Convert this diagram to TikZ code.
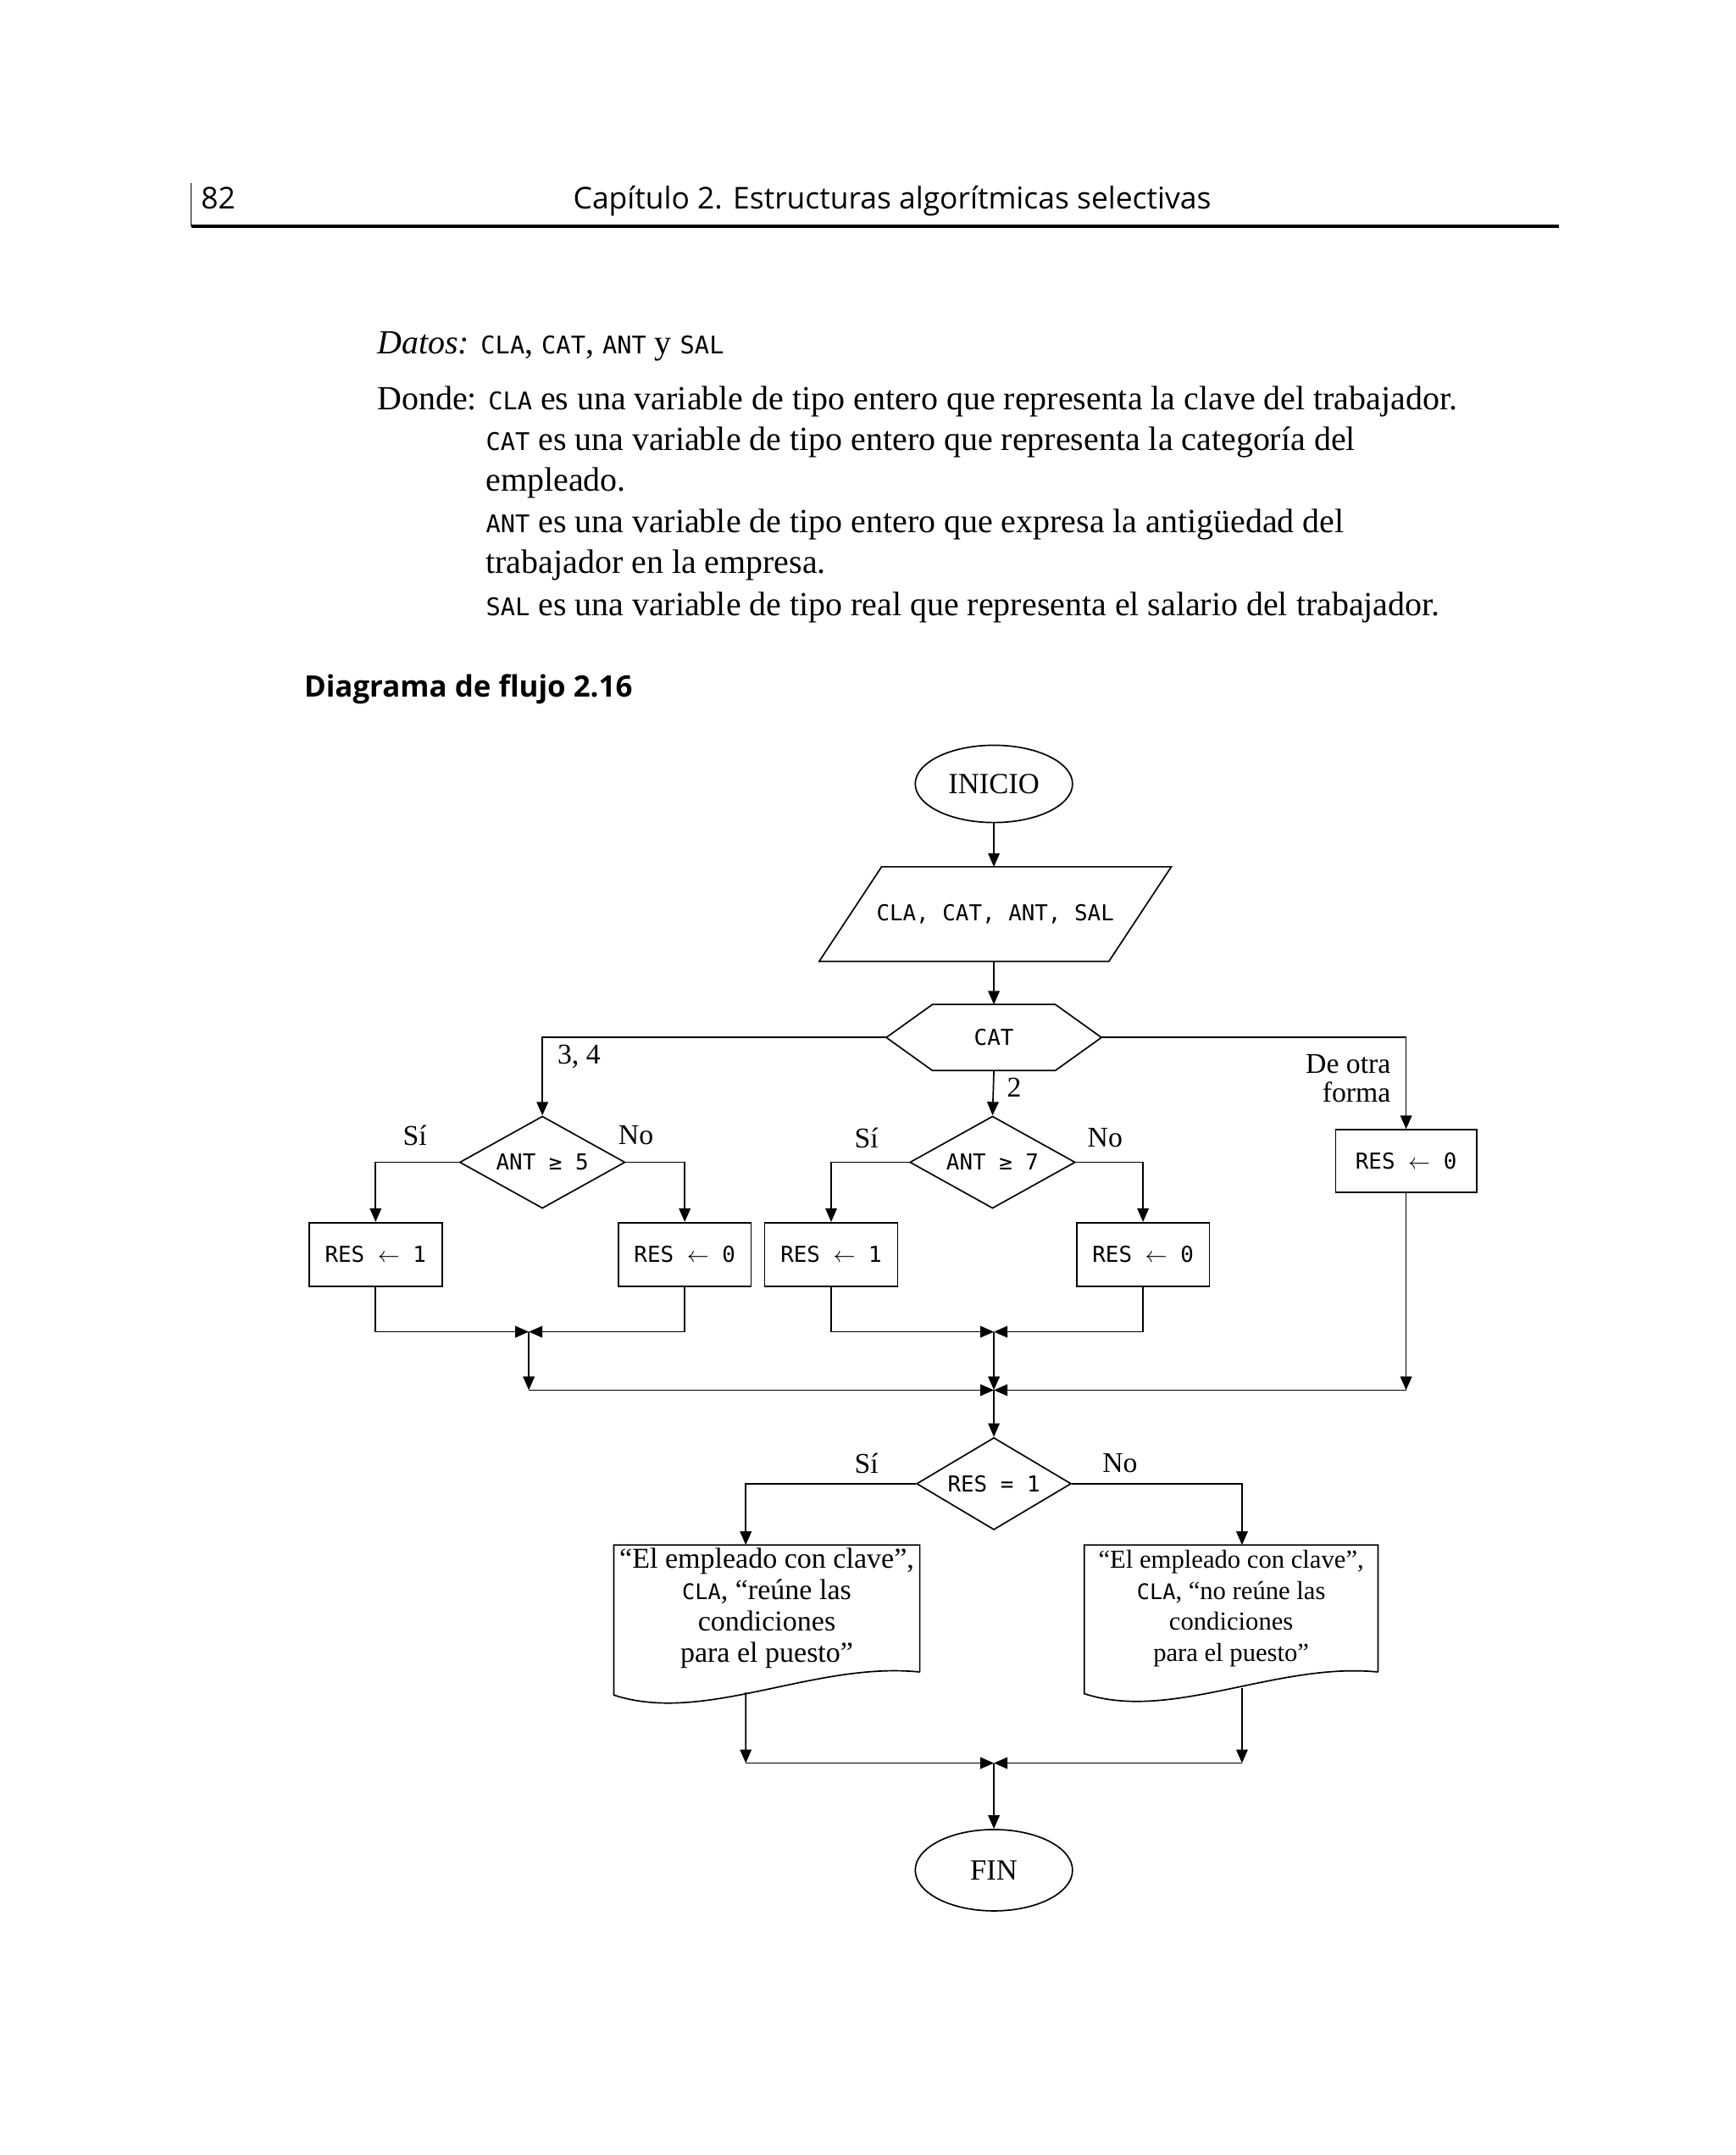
\documentclass[tikz,border=0pt]{standalone}
\usepackage{fontspec}
\setmainfont{Liberation Serif}
\newfontfamily\headfont{Open Sans}
\newfontfamily\varfont{DejaVu Sans Mono}
\usetikzlibrary{positioning}
\usetikzlibrary{arrows.meta}
\usetikzlibrary{shapes.geometric}

\newcommand{\tv}[1]{{\varfont\fontsize{10.2}{12}\selectfont #1}}
\newcommand{\dv}[1]{{\varfont\fontsize{9}{11}\selectfont #1}}
\newcommand{\assign}{\ensuremath{\leftarrow}}

\begin{document}
\begin{tikzpicture}[x=0.02cm, y=-0.02cm,
  line/.style={draw, line width=0.6pt},
  arr/.style={line, -{Triangle[length=0.2cm,width=0.17cm]}},
  body/.style={anchor=base west, inner sep=0, font=\fontsize{14.2}{16}\selectfont},
  lbl/.style={inner sep=0, font=\fontsize{12}{12}\selectfont},
  mono/.style={font=\varfont\fontsize{9.2}{11}\selectfont},
  term/.style={ellipse, line, minimum width=2.32cm, minimum height=1.14cm, inner sep=0, font=\fontsize{12.3}{14}\selectfont},
  proc/.style={rectangle, line, minimum width=1.96cm, minimum height=0.94cm, mono},
  decide/.style={diamond, line, aspect=1.8, minimum width=2.44cm, minimum height=1.36cm, inner sep=0, mono},
  doc/.style={rectangle, align=center, inner sep=0, minimum height=1.86cm},
]
\useasboundingbox (0,0) rectangle (1280,1589);

% page header
\node[anchor=base west, inner sep=0, font=\headfont\fontsize{12.6}{14}\selectfont] (pg) at (148,154) {82};
\node[anchor=base, inner sep=0, font=\headfont\fontsize{12.6}{14}\selectfont] (hd) at (658,154) {Capítulo 2. Estructuras algorítmicas selectivas};
\draw[line width=0.6pt] (141,135) -- (141,167);
\draw[line width=1.4pt] (141,167) -- (1150,167);

% text
\node[body] (t1) at (278,261) {\textit{Datos:} \tv{CLA}, \tv{CAT}, \tv{ANT} y \tv{SAL}};
\node[body] (t2) at (278,302) {Donde: \tv{CLA} es una variable de tipo entero que representa la clave del trabajador.};
\node[body] (t3) at (358,332) {\tv{CAT} es una variable de tipo entero que representa la categoría del};
\node[body] (t4) at (358,362) {empleado.};
\node[body] (t5) at (358,393) {\tv{ANT} es una variable de tipo entero que expresa la antigüedad del};
\node[body] (t6) at (358,423) {trabajador en la empresa.};
\node[body] (t7) at (358,454) {\tv{SAL} es una variable de tipo real que representa el salario del trabajador.};

\node[anchor=base west, inner sep=0, font=\headfont\bfseries\fontsize{12.4}{14}\selectfont] (cap) at (224,514) {Diagrama de flujo 2.16};

% flowchart
\node[term] (ini) at (733,578) {INICIO};
\node[mono, minimum width=5.18cm, minimum height=1.38cm] (dat) at (734,674) {CLA, CAT, ANT, SAL};
\draw[line] ([xshift=0.92cm]dat.north west) -- (dat.north east) -- ([xshift=-0.92cm]dat.south east)
   -- (dat.south west) -- cycle;
\node[mono, minimum width=3.16cm, minimum height=0.96cm] (cat) at (733,765) {CAT};
\draw[line] (cat.west) -- ([xshift=0.68cm]cat.north west) -- ([xshift=-0.68cm]cat.north east)
   -- (cat.east) -- ([xshift=-0.68cm]cat.south east) -- ([xshift=0.68cm]cat.south west) -- cycle;

\node[decide] (a5) at (400,857) {ANT ≥ 5};
\node[decide] (a7) at (732,857) {ANT ≥ 7};

\node[proc] (r1) at (277,925) {RES \assign\ 1};
\node[proc] (r2) at (505,925) {RES \assign\ 0};
\node[proc] (r3) at (613,925) {RES \assign\ 1};
\node[proc] (r4) at (843,925) {RES \assign\ 0};
\node[proc, minimum width=2.08cm, minimum height=0.92cm] (r5) at (1037,856) {RES \assign\ 0};

\coordinate (j1) at (390,982);
\coordinate (j2) at (733,982);
\coordinate (j3) at (390,1025);
\coordinate (j4) at (733,1025);
\coordinate (j5) at (1037,1025);

\node[decide, aspect=1.7, minimum width=2.28cm] (res) at (733,1094) {RES = 1};

\node[doc, minimum width=4.5cm, font=\fontsize{12.1}{13.2}\selectfont] (m1) at (565.5,1186)
   {“El empleado con clave”,\\ \dv{CLA}, “reúne las\hspace{1.2em}\\ condiciones\\ para el puesto”};
\node[doc, minimum width=4.32cm, font=\fontsize{10.9}{13}\selectfont] (m2) at (908,1186)
   {“El empleado con clave”,\\ \dv{CLA}, “no reúne las\hspace{0.8em}\\ condiciones\\ para el puesto”};
\draw[line] (m1.south east) -- (m1.north east) -- (m1.north west) -- ([yshift=-0.34cm]m1.south west)
   .. controls +(1.34cm,-0.44cm) and +(-1.56cm,0.16cm) .. (m1.south east);
\draw[line] (m2.south east) -- (m2.north east) -- (m2.north west) -- ([yshift=-0.32cm]m2.south west)
   .. controls +(1.28cm,-0.42cm) and +(-1.5cm,0.15cm) .. (m2.south east);

\coordinate (k1) at (550,1300);
\coordinate (k2) at (733,1300);
\coordinate (k3) at (916,1300);

\node[term, minimum height=1.2cm] (fin) at (733,1379) {FIN};

% labels
\node[lbl] (l34) at (427,779) {3, 4};
\node[lbl] (l2) at (748,802) {2};
\node[lbl, anchor=east, align=right] (lo) at (1026,795) {De otra\\ forma};
\node[lbl] (s1) at (306,837) {Sí};
\node[lbl] (n1) at (469,837) {No};
\node[lbl] (s2) at (639,839) {Sí};
\node[lbl] (n2) at (815,839) {No};
\node[lbl] (s3) at (639,1079) {Sí};
\node[lbl] (n3) at (826,1079) {No};

% connectors
\draw[arr] (ini) -- (ini |- dat.north);
\draw[arr] (dat.south -| cat) -- (cat);
\draw[arr] (cat.west) -| (a5.north);
\draw[arr] (cat.south) -- (a7.north);
\draw[arr] (cat.east) -| (r5.north);
\draw[arr] (a5.west) -| (r1.north);
\draw[arr] (a5.east) -| (r2.north);
\draw[arr] (a7.west) -| (r3.north);
\draw[arr] (a7.east) -| (r4.north);
\draw[arr] (r1.south) |- (j1);
\draw[arr] (r2.south) |- (j1);
\draw[arr] (r3.south) |- (j2);
\draw[arr] (r4.south) |- (j2);
\draw[arr] (j1) -- (j3);
\draw[arr] (j2) -- (j4);
\draw[arr] (r5.south) -- (j5);
\draw[arr] (j3) -- (j4);
\draw[arr] (j5) -- (j4);
\draw[arr] (j4) -- (res.north);
\draw[arr] (res.west) -| ([xshift=-0.31cm]m1.north);
\draw[arr] (res.east) -| ([xshift=0.16cm]m2.north);
\draw[arr] ([xshift=-0.31cm,yshift=-0.3cm]m1.south) -- (k1);
\draw[arr] ([xshift=0.16cm,yshift=-0.24cm]m2.south) -- (k3);
\draw[arr] (k1) -- (k2);
\draw[arr] (k3) -- (k2);
\draw[arr] (k2) -- (fin);
\end{tikzpicture}
\end{document}
